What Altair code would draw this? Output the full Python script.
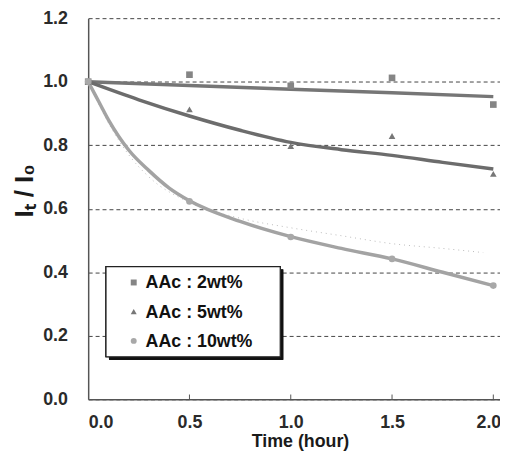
import altair as alt
import pandas as pd

# measured points
times = [0.0, 0.5, 1.0, 1.5, 2.0]
series_names = ["AAc : 2wt%", "AAc : 5wt%", "AAc : 10wt%"]
vals_2 = [1.0, 1.022, 0.987, 1.012, 0.928]
vals_5 = [1.0, 0.913, 0.797, 0.829, 0.71]
vals_10 = [1.0, 0.623, 0.511, 0.442, 0.358]

# fitted curves
fit2_t = [0.0, 0.5, 1.0, 1.5, 2.0]
fit2_v = [1.0, 0.988, 0.976, 0.965, 0.953]
fit5_t = [0.0, 0.25, 0.5, 0.75, 1.0, 1.25, 1.5, 1.75, 2.0]
fit5_v = [1.0, 0.943, 0.892, 0.847, 0.809, 0.786, 0.768, 0.746, 0.725]
fit10_t = [0.0, 0.05, 0.1, 0.2, 0.3, 0.4, 0.5, 0.75, 1.0, 1.25, 1.5, 1.75, 2.0]
fit10_v = [1.0, 0.94, 0.88, 0.785, 0.72, 0.665, 0.625, 0.56, 0.512, 0.475, 0.442, 0.40, 0.358]
# faint dotted curve
dot10_t = [0.0, 0.1, 0.2, 0.3, 0.5, 0.75, 1.0, 1.25, 1.5, 1.75, 1.95]
dot10_v = [1.0, 0.87, 0.77, 0.70, 0.62, 0.57, 0.54, 0.515, 0.49, 0.475, 0.462]

x_ticks = [0.0, 0.5, 1.0, 1.5, 2.0]
y_ticks = [0.0, 0.2, 0.4, 0.6, 0.8, 1.0, 1.2]

pts = pd.DataFrame({
    "t": times * 3,
    "v": vals_2 + vals_5 + vals_10,
    "s": [series_names[0]] * 5 + [series_names[1]] * 5 + [series_names[2]] * 5,
})
fits = pd.DataFrame({
    "t": fit2_t + fit5_t + fit10_t,
    "v": fit2_v + fit5_v + fit10_v,
    "fs": ["f2"] * len(fit2_t) + ["f5"] * len(fit5_t) + ["f10"] * len(fit10_t),
})
dots = pd.DataFrame({"t": dot10_t, "v": dot10_v})
ticks = pd.DataFrame({"t": x_ticks[1:]})
legend_df = pd.DataFrame({"s": series_names})

xs = alt.Scale(domain=[0, 2.033], nice=False, zero=False)
ys = alt.Scale(domain=[0, 1.2], nice=False)

pt_colors = ["#858585", "#777777", "#a8a8a8"]
line_colors = ["#767676", "#6c6c6c", "#a3a3a3"]
shape_scale = alt.Scale(domain=series_names, range=["square", "triangle-up", "circle"])
color_scale = alt.Scale(domain=series_names, range=pt_colors)

FONT = "Liberation Sans"
X = alt.X("t:Q", scale=xs, axis=alt.Axis(
    values=x_ticks, format=".1f", title="Time (hour)", grid=False, ticks=False,
    labelFontSize=18, labelFontWeight="bold", labelColor="#2a2a2a", labelPadding=14,
    labelOffset=alt.ConditionalAxisNumber(condition={"test": "datum.value >= 2", "value": -5}, value=0),
    titleFontSize=18, titleFontWeight="bold", titleColor="#1a1a1a", titlePadding=2, titleX=214,
    domainColor="#555", domainWidth=1.5, labelFont=FONT, titleFont=FONT))
Y = alt.Y("v:Q", scale=ys, axis=alt.Axis(
    values=y_ticks, format=".1f", title="Iₜ / I₀", grid=True, ticks=False,
    gridDash=[4, 3], gridColor="#444", gridWidth=1,
    labelFontSize=18, labelFontWeight="bold", labelColor="#2a2a2a", labelPadding=21,
    titleFontSize=26, titleFontWeight="bold", titleColor="#1a1a1a", titlePadding=5, titleY=174,
    domainColor="#555", domainWidth=1.5, labelFont=FONT, titleFont=FONT))

fit_layer = alt.Chart(fits).mark_line(interpolate="monotone", strokeWidth=3.5).encode(
    x=X, y=Y,
    stroke=alt.Stroke("fs:N", scale=alt.Scale(domain=["f2", "f5", "f10"], range=line_colors), legend=None),
)
dot_layer = alt.Chart(dots).mark_line(interpolate="monotone", strokeWidth=1, strokeDash=[1, 4], color="#bbbbbb").encode(
    x="t:Q", y="v:Q")
pt_layer = alt.Chart(pts).mark_point(filled=True, size=45, opacity=1).encode(
    x="t:Q", y="v:Q",
    shape=alt.Shape("s:N", scale=shape_scale, legend=None),
    color=alt.Color("s:N", scale=color_scale, legend=None),
)
tick_layer = alt.Chart(ticks).mark_rule(color="#555", strokeWidth=1).encode(
    x="t:Q", y=alt.datum(0), y2=alt.datum(0.015))

main = alt.layer(dot_layer, fit_layer, tick_layer, pt_layer)

# legend box, drawn by hand
shadow = alt.Chart(legend_df).mark_rect(color="#111").encode(
    x=alt.value(21), x2=alt.value(197), y=alt.value(254), y2=alt.value(345))
box = alt.Chart(legend_df).mark_rect(fill="white", stroke="#222", strokeWidth=1.2).encode(
    x=alt.value(18), x2=alt.value(194), y=alt.value(251), y2=alt.value(342))
LY = alt.Y("s:N", scale=alt.Scale(type="point", domain=series_names, range=[267, 326], padding=0), axis=None)
leg_sym = alt.Chart(legend_df).mark_point(filled=True, size=36, opacity=1).encode(
    x=alt.value(46), y=LY,
    shape=alt.Shape("s:N", scale=shape_scale, legend=None),
    color=alt.Color("s:N", scale=color_scale, legend=None),
)
leg_txt = alt.Chart(legend_df).mark_text(
    align="left", baseline="middle", font=FONT, fontSize=18, fontWeight="bold", color="#111", dy=1
).encode(x=alt.value(58), y=LY, text="s:N")
legend_layer = alt.layer(shadow, box, leg_sym, leg_txt)

chart = alt.layer(main, legend_layer).resolve_scale(y="independent").properties(
    width=416, height=385,
    autosize=alt.AutoSizeParams(type="none"),
    padding={"left": 81, "top": 8, "right": 0, "bottom": 54},
).configure_view(stroke=None)

chart.save("out.html", embed_options={"renderer": "svg", "actions": False})
